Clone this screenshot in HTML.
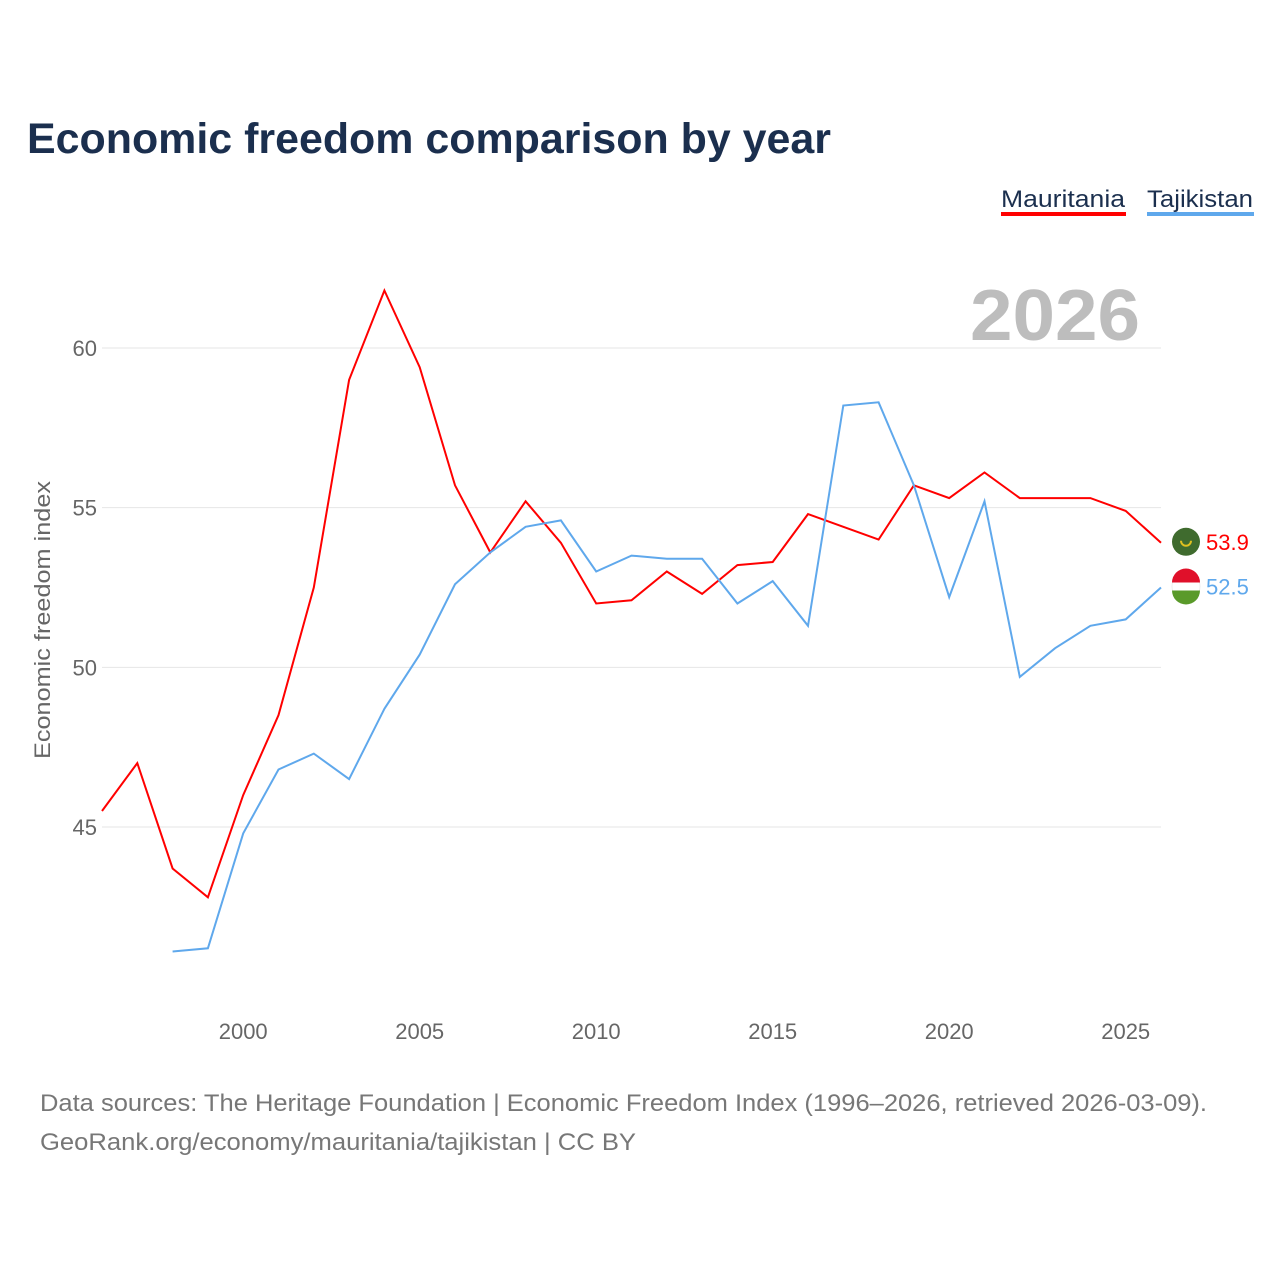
<!DOCTYPE html>
<html><head><meta charset="utf-8">
<style>
body{margin:0;background:#fff;font-family:"Liberation Sans",sans-serif;}
#wrap{position:relative;width:1280px;height:1280px;overflow:hidden;}
</style></head>
<body>
<div id="wrap">
<svg id="chart" width="1280" height="1280">
  <text x="27" y="153" font-size="43" font-weight="bold" fill="#1b2f4e" textLength="804" lengthAdjust="spacingAndGlyphs">Economic freedom comparison by year</text>
  <g>
    <text x="1001" y="207" font-size="24" fill="#1b2f4e" textLength="124" lengthAdjust="spacingAndGlyphs">Mauritania</text>
    <rect x="1001" y="212" width="125" height="4" fill="#ff0000"/>
  </g>
  <g>
    <text x="1147" y="207" font-size="24" fill="#1b2f4e" textLength="106" lengthAdjust="spacingAndGlyphs">Tajikistan</text>
    <rect x="1147" y="212" width="107" height="4" fill="#5fa8ec"/>
  </g>
  <text x="1140" y="340" font-size="72" font-weight="bold" fill="#bdbdbd" text-anchor="end" textLength="170" lengthAdjust="spacingAndGlyphs">2026</text>
  <text transform="translate(50,620) rotate(-90)" font-size="22" fill="#666" text-anchor="middle" textLength="278" lengthAdjust="spacingAndGlyphs">Economic freedom index</text>
  <g id="grid"></g>
  <g id="yticks"></g>
  <g id="xticks"></g>
  <g id="lines"></g>
  <text x="40" y="1111" font-size="24" fill="#777" textLength="1167" lengthAdjust="spacingAndGlyphs">Data sources: The Heritage Foundation | Economic Freedom Index (1996–2026, retrieved 2026-03-09).</text>
  <text x="40" y="1150" font-size="24" fill="#777" textLength="596" lengthAdjust="spacingAndGlyphs">GeoRank.org/economy/mauritania/tajikistan | CC BY</text>
</svg>
</div>
<script>
const years = [1996,1997,1998,1999,2000,2001,2002,2003,2004,2005,2006,2007,2008,2009,2010,2011,2012,2013,2014,2015,2016,2017,2018,2019,2020,2021,2022,2023,2024,2025,2026];
const mauritania = [45.5,47.0,43.7,42.8,46.0,48.5,52.5,59.0,61.8,59.4,55.7,53.6,55.2,53.9,52.0,52.1,53.0,52.3,53.2,53.3,54.8,54.4,54.0,55.7,55.3,56.1,55.3,55.3,55.3,54.9,53.9];
const tajikistan = [null,null,41.1,41.2,44.8,46.8,47.3,46.5,48.7,50.4,52.6,53.6,54.4,54.6,53.0,53.5,53.4,53.4,52.0,52.7,51.3,58.2,58.3,55.7,52.2,55.2,49.7,50.6,51.3,51.5,52.5];
const yTicks = [45,50,55,60];
const xTicks = [2000,2005,2010,2015,2020,2025];
const NS="http://www.w3.org/2000/svg";
const X = y => 102 + (y-1996)*(1161-102)/30;
const Y = v => 348 + (60-v)*(827-348)/15;
function mk(t,a,p){const e=document.createElementNS(NS,t);for(const k in a)e.setAttribute(k,a[k]);p.appendChild(e);return e;}
const grid=document.getElementById('grid'), yt=document.getElementById('yticks'), xt=document.getElementById('xticks'), lines=document.getElementById('lines');
yTicks.forEach(v=>{
  const l=mk('line',{x1:102,x2:1161,y1:Y(v),y2:Y(v),stroke:'#e6e6e6','stroke-width':1},grid);
  
  
  const t=mk('text',{x:97,y:Y(v)+8,'font-size':22,fill:'#666','text-anchor':'end'},yt);
  t.textContent=v;
  
  
});
xTicks.forEach(v=>{
  const t=mk('text',{x:X(v),y:1039,'font-size':22,fill:'#666','text-anchor':'middle'},xt);
  t.textContent=v;
  
  
});
function path(vals){let d='';let started=false;vals.forEach((v,i)=>{if(v==null)return;d+=(started?'L':'M')+X(years[i]).toFixed(1)+','+Y(v).toFixed(1);started=true;});return d;}
const pm=mk('path',{d:path(mauritania),fill:'none',stroke:'#ff0000','stroke-width':2},lines);


const pt=mk('path',{d:path(tajikistan),fill:'none',stroke:'#5fa8ec','stroke-width':2},lines);


function endLabel(vals,color,name,flag){
  const v=vals[vals.length-1], y=Y(v)-3;
  const g=mk('g',{},lines);
  
  
  if(flag==='m'){
    mk('circle',{cx:1186,cy:y+2,r:14,fill:'#3f6b2e'},g);
    mk('path',{d:`M1181,${y+1} a5,5 0 0,0 10,0`,fill:'none',stroke:'#e0c020','stroke-width':2},g);
  } else {
    mk('circle',{cx:1186,cy:y+2,r:14,fill:'#ffffff',stroke:'#eee'},g);
    mk('path',{d:`M1172,${y-2} a14,14 0 0,1 28,0 Z`,fill:'#e0102a'},g);
    mk('path',{d:`M1172,${y+6} a14,14 0 0,0 28,0 Z`,fill:'#5a9a2a'},g);
  }
  const t=mk('text',{x:1206,y:y+10,'font-size':22,fill:color},g);
  t.textContent=v.toFixed(1);
}
endLabel(mauritania,'#ff0000','mauritania','m');
endLabel(tajikistan,'#5fa8ec','tajikistan','t');
</script>
</body></html>
